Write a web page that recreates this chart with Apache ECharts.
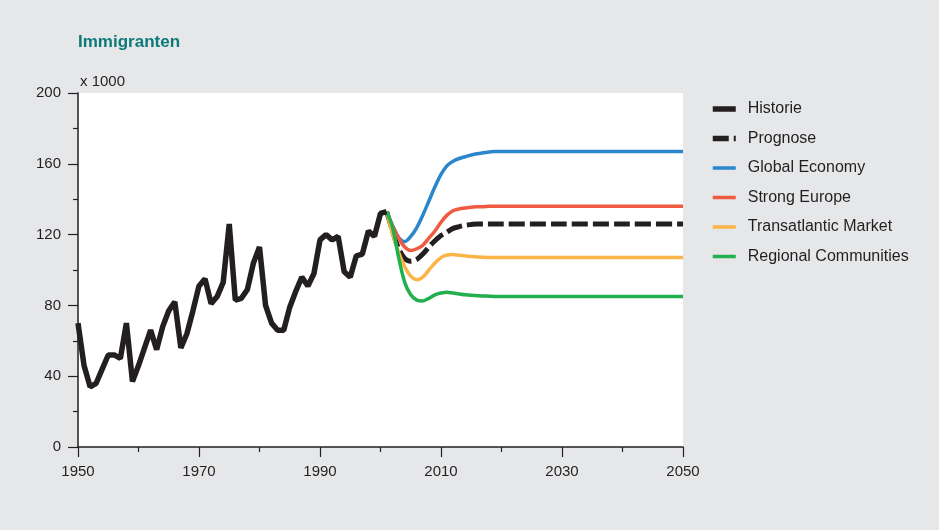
<!DOCTYPE html>
<html>
<head>
<meta charset="utf-8">
<script src="https://cdn.jsdelivr.net/npm/echarts@6/dist/echarts.min.js"></script>
<style>
html,body{margin:0;padding:0;background:#e6e7e8;}
#chart{width:939px;height:530px;}
</style>
</head>
<body>
<div id="chart"></div>
<script>
var histYears = [1950,1951,1952,1953,1954,1955,1956,1957,1958,1959,1960,1961,1962,1963,1964,1965,1966,1967,1968,1969,1970,1971,1972,1973,1974,1975,1976,1977,1978,1979,1980,1981,1982,1983,1984,1985,1986,1987,1988,1989,1990,1991,1992,1993,1994,1995,1996,1997,1998,1999,2000,2001];
var histValues = [70,46,34,36,44,52,52,50,70,37,46,56,66,55,68,77,82,56,64,77,91,95,81,85,93,126,83,84,89,104,113,80,70,66,66,79,88,96,91,98,117,120,117,119,99,96,108,109,122,119,132,133];

var projYears = [2001,2002,2003,2004,2005,2006,2007,2008,2009,2010,2011,2012,2013,2014,2015,2016,2017,2018,2019,2020,2030,2040,2050];
var prognose = [133,122,112,106.5,105,106,109,113,116.5,119.5,121.5,123.5,124.5,125.3,125.7,126,126,126,126,126,126,126,126];
var globalEconomy = [133,125,118.5,116,119,124,131,139,147,154,159,161.5,163,164,165,165.7,166.3,166.7,167,167,167,167,167];
var strongEurope = [133,125,118,113,111,112,114,118,122,127,131,133.5,134.5,135,135.5,135.7,135.8,136,136,136,136,136,136];
var transatlantic = [133,120,110,102,96.5,94.5,96,100,104,107,108.5,108.7,108.3,108,107.6,107.4,107.2,107.1,107,107,107,107,107];
var regional = [133,124,107,93,86,83,82.5,84,86,87,87.5,87,86.5,86,85.7,85.5,85.3,85.2,85,85,85,85,85];

var seriesNames = ['Historie','Prognose','Global Economy','Strong Europe','Transatlantic Market','Regional Communities'];
var xTicks = {min:1950, max:2050, interval:20};
var yTicks = {min:0, max:200, interval:40};

function pairs(xs, ys){ return xs.map(function(x,i){ return [x, ys[i]]; }); }

var ink = '#231f20';
var font = '"Liberation Sans", Arial, sans-serif';
var legendWidths = [5.5, 5.5, 3.5, 3.5, 3.5, 3.5];

var chart = echarts.init(document.getElementById('chart'), null, {renderer:'canvas'});
chart.setOption({
  backgroundColor:'#e6e7e8',
  animation:false,
  title:{
    text:'Immigranten', left:73, top:29,
    textStyle:{color:'#0b7a78', fontSize:17, fontWeight:'bold', fontFamily:font}
  },
  legend:{
    orient:'vertical', left:705, top:96,
    itemWidth:23, itemHeight:14, itemGap:13.5,
    data:seriesNames.map(function(n,i){ return {name:n, lineStyle:{width:legendWidths[i]}}; }),
    itemStyle:{opacity:0, borderWidth:0},
    textStyle:{color:ink, fontSize:16, fontFamily:font, padding:[0,0,0,7]}
  },
  grid:{left:78, right:256, top:93, bottom:83, show:true, backgroundColor:'#ffffff', borderWidth:0},
  xAxis:{
    type:'value', min:xTicks.min, max:xTicks.max, interval:xTicks.interval,
    axisLine:{show:true, lineStyle:{color:ink, width:1.5}},
    axisTick:{show:true, length:10, lineStyle:{color:ink, width:1.2}},
    minorTick:{show:true, splitNumber:2, length:5, lineStyle:{color:ink, width:1.2}},
    splitLine:{show:false},
    axisLabel:{color:ink, fontSize:15, fontFamily:font, margin:17, formatter:function(v){return String(v);}}
  },
  yAxis:{
    type:'value', min:yTicks.min, max:yTicks.max, interval:yTicks.interval,
    name:'x 1000', nameLocation:'end', nameGap:11,
    nameTextStyle:{color:ink, fontSize:15, fontFamily:font, align:'left', verticalAlign:'middle', padding:[0,0,0,2]},
    axisLine:{show:true, lineStyle:{color:ink, width:1.5}},
    axisTick:{show:true, length:10, lineStyle:{color:ink, width:1.2}},
    minorTick:{show:true, splitNumber:2, length:5, lineStyle:{color:ink, width:1.2}},
    splitLine:{show:false},
    axisLabel:{color:ink, fontSize:15, fontFamily:font, margin:17}
  },
  series:[
    {name:seriesNames[0], type:'line', symbol:'none', data:pairs(histYears, histValues), z:3,
     color:ink, lineStyle:{color:ink, width:5.5}},
    {name:seriesNames[1], type:'line', symbol:'none', data:pairs(projYears, prognose), smooth:0.3, z:2,
     color:ink, lineStyle:{color:ink, width:5, type:[16,5]}},
    {name:seriesNames[2], type:'line', symbol:'none', data:pairs(projYears, globalEconomy), smooth:0.3, z:2,
     color:'#2b87cc', lineStyle:{color:'#2b87cc', width:3.5}},
    {name:seriesNames[3], type:'line', symbol:'none', data:pairs(projYears, strongEurope), smooth:0.3, z:2,
     color:'#f05a40', lineStyle:{color:'#f05a40', width:3.5}},
    {name:seriesNames[4], type:'line', symbol:'none', data:pairs(projYears, transatlantic), smooth:0.3, z:2,
     color:'#fbb446', lineStyle:{color:'#fbb446', width:3.5}},
    {name:seriesNames[5], type:'line', symbol:'none', data:pairs(projYears, regional), smooth:0.3, z:2,
     color:'#22b04e', lineStyle:{color:'#22b04e', width:3.5}}
  ]
});
</script>
</body>
</html>
